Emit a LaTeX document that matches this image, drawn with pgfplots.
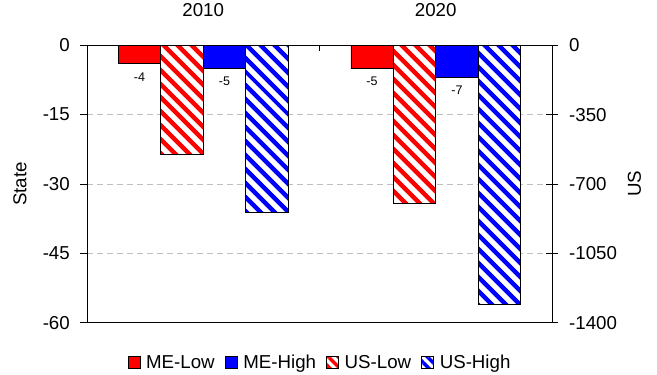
\documentclass[border=0pt]{standalone}
\usepackage{pgfplots}
\pgfplotsset{compat=1.18}
\usepackage{fontspec}
\setmainfont{Liberation Sans}
\newfontfamily\lsans{Liberation Sans}
\usetikzlibrary{patterns.meta}

\newcommand{\bigf}{\fontsize{18.7}{22}\selectfont}
\newcommand{\smallf}{\fontsize{12.5}{14}\selectfont}

\pgfplotsset{
  commonax/.style={
    width=465pt, height=277.4pt, scale only axis,
    xmin=-0.5, xmax=1.5,
    /pgf/number format/assume math mode=true,
    /pgf/number format/fixed,
    /pgf/number format/1000 sep={},
    bar width=0.1826,
    axis line style={black, line width=0.8pt},
    every tick/.style={black, line width=0.8pt},
    tick label style={font=\lsans\bigf},
    label style={font=\lsans\bigf},
  },
}

\begin{document}
\begin{tikzpicture}[font=\lsans\bigf]
% ---------- primary axis (State) ----------
\begin{axis}[commonax, name=ax1,
  ymin=-60, ymax=0, ytick={0,-15,-30,-45,-60},
  ytick pos=left, tick align=outside, major tick length=7pt,
  yticklabel style={anchor=east, inner sep=0pt, xshift=-10pt},
  xtick={0,1}, xticklabels={\mbox{\lsans\bigf 2010},\mbox{\lsans\bigf 2020}}, xtick style={draw=none},
  xticklabel pos=upper,
  xticklabel style={anchor=base, inner sep=0pt, yshift=22pt, font=\lsans\bigf},
  ymajorgrids, grid style={draw={rgb,255:red,190;green,190;blue,190}, line width=0.8pt, dash pattern=on 6pt off 4pt},
  every axis y label/.style={at={(axis description cs:-0.144,0.5)}, rotate=90, anchor=center},
  ylabel={State},
  nodes near coords={\pgfmathprintnumber[assume math mode=true]{\pgfplotspointmeta}},
  every node near coord/.append style={font=\lsans\smallf, anchor=north, yshift=-5pt, text=black},
]
\addplot[ybar, bar shift=-0.2739, fill=red, draw=black, line width=0.6pt,
  every node near coord/.append style={xshift=-63.77pt}] coordinates {(0,-4) (1,-5)};
\addplot[ybar, bar shift=0.0913, fill=blue, draw=black, line width=0.6pt,
  every node near coord/.append style={xshift=21.25pt}] coordinates {(0,-5) (1,-7)};
\end{axis}
% ---------- secondary axis (US) ----------
\begin{axis}[commonax,
  ymin=-1400, ymax=0, ytick={0,-350,-700,-1050,-1400},
  axis y line*=right, axis x line=none,
  tick align=center, major tick length=12pt,
  yticklabel style={anchor=west, inner sep=0pt, xshift=11pt},
  every axis y label/.style={at={(axis description cs:1.1774,0.5)}, rotate=90, anchor=center},
  ylabel={US},
  legend style={at={(axis description cs:0.5,0)}, anchor=center, yshift=-40pt,
    draw=none, fill=none, inner sep=0pt, font=\lsans\bigf,
    nodes={inner sep=1pt},
    /tikz/every odd column/.append style={column sep=5pt},
    /tikz/every even column/.append style={column sep=9pt}},
  legend columns=4,
]
\addlegendimage{legend image code/.code={\draw[fill=red, draw=black, line width=0.6pt] (0pt,-6pt) rectangle (12pt,6pt);}}
\addlegendimage{legend image code/.code={\draw[fill=blue, draw=black, line width=0.6pt] (0pt,-6pt) rectangle (12pt,6pt);}}
\addlegendimage{legend image code/.code={\draw[preaction={fill=white}, pattern={Lines[angle=-45,distance=7pt,line width=3.5pt]}, pattern color=red, draw=black, line width=0.6pt] (0pt,-6pt) rectangle (12pt,6pt);}}
\addlegendimage{legend image code/.code={\draw[preaction={fill=white}, pattern={Lines[angle=-45,distance=7pt,line width=3.5pt]}, pattern color=blue, draw=black, line width=0.6pt] (0pt,-6pt) rectangle (12pt,6pt);}}
\addplot[ybar, bar shift=-0.0913, draw=black, line width=0.6pt, preaction={fill=white},
  pattern={Lines[angle=-45,distance=10.5pt,line width=5pt]}, pattern color=red, forget plot]
  coordinates {(0,-550) (1,-795)};
\addplot[ybar, bar shift=0.2739, draw=black, line width=0.6pt, preaction={fill=white},
  pattern={Lines[angle=-45,distance=10.5pt,line width=5pt]}, pattern color=blue, forget plot]
  coordinates {(0,-843) (1,-1305)};
\legend{ME-Low, ME-High, US-Low, US-High}
\end{axis}
% ---------- tick between categories ----------
\begin{axis}[commonax,
  ymin=-60, ymax=0,
  axis x line*=top, axis y line=none,
  xtick={0.5}, xticklabels={}, tick align=inside, major tick length=6pt,
]
\end{axis}
\path (ax1.south west) ++(-87pt,-52.3pt) rectangle ++(657pt,375pt);
\end{tikzpicture}
\end{document}
